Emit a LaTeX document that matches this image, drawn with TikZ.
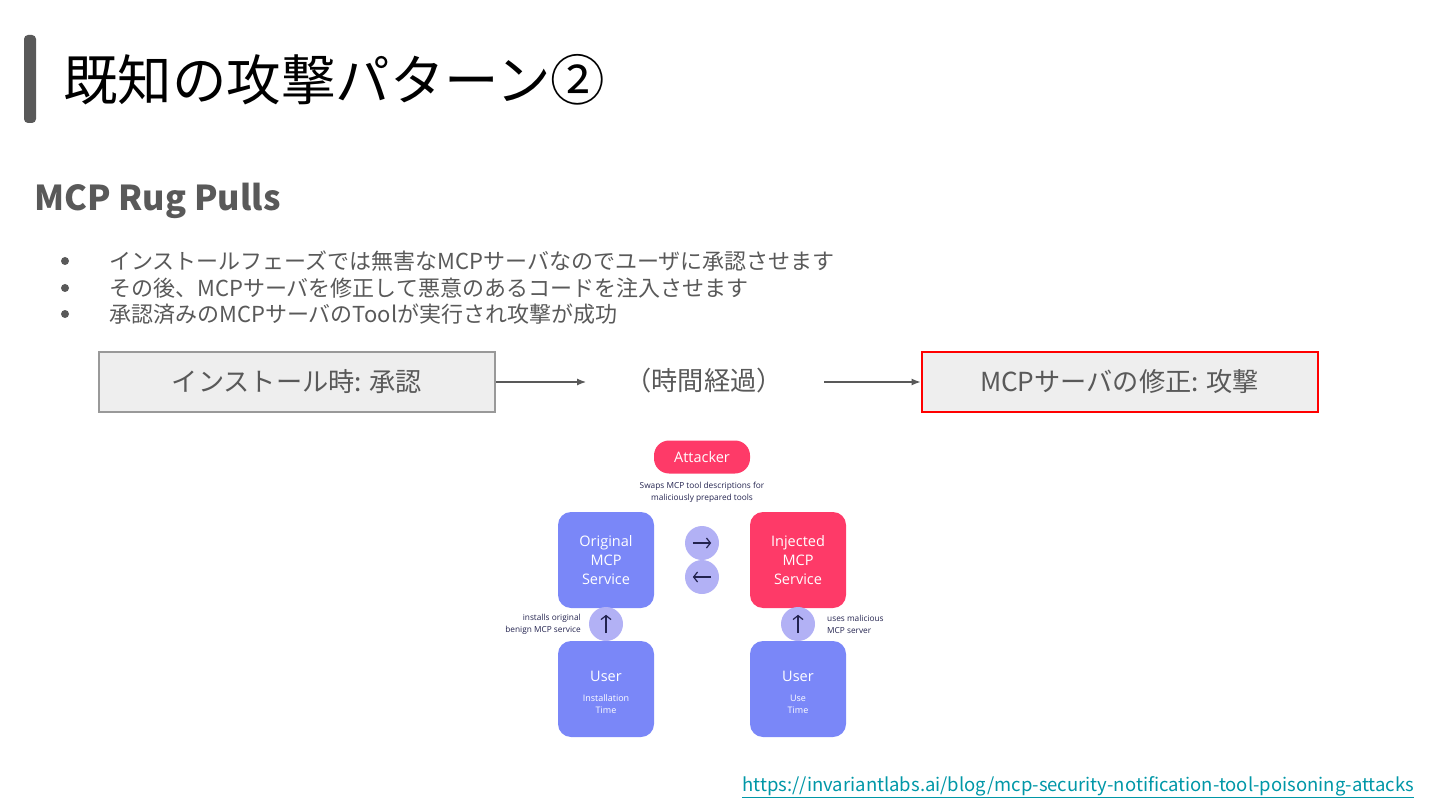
\documentclass[tikz,border=0pt]{standalone}
\usepackage{fontspec}
\setmainfont{Noto Sans CJK JP}
\newfontfamily\latinfont{Open Sans}
\usetikzlibrary{positioning,arrows.meta}
\definecolor{slidegray}{HTML}{595959}
\definecolor{boxfill}{HTML}{EEEEEE}
\definecolor{boxline}{HTML}{999999}
\definecolor{boxred}{HTML}{FF0000}
\definecolor{linkteal}{HTML}{0097A7}
\definecolor{svcblue}{HTML}{7A87F8}
\definecolor{svcred}{HTML}{FE3A68}
\definecolor{iconfill}{HTML}{B2B1F5}
\definecolor{iconink}{HTML}{23234F}
\newcommand{\fsize}[1]{\fontsize{#1}{#1}\selectfont}
\tikzset{
  flowbox/.style={draw=boxline,fill=boxfill,line width=1.6pt,minimum width=396pt,minimum height=60pt,text=slidegray,inner sep=0pt,font=\fsize{26.2}},
  flowarrow/.style={-{Latex[length=9pt,width=7pt]},slidegray,line width=1.2pt},
  svcbox/.style={fill=svcblue,rounded corners=13pt,minimum width=96pt,minimum height=96pt,inner sep=0pt,text=white,align=center},
  svcfont/.style={font=\latinfont\fontsize{14.5}{19}\selectfont},
  userfont/.style={font=\latinfont\fontsize{9}{12}\selectfont},
  iconcirc/.style={circle,fill=iconfill,minimum size=34pt,inner sep=0pt},
  iconarrow/.style={-{Straight Barb[length=4pt,width=10pt]},draw=iconink,line width=1.2pt},
  smallnote/.style={text=iconink,font=\latinfont\fontsize{8.3}{11.5}\selectfont,inner sep=0pt},
}
\begin{document}
\begin{tikzpicture}[>=latex,x=1pt,y=-1pt]
    \useasboundingbox (0,0) rectangle (1440,810);
    % --- title and heading
    \fill[slidegray,rounded corners=4pt] (24,35) rectangle (36,123);
    \node[anchor=west,inner sep=0pt,font=\fsize{54.5}] (title) at (63,80) {既知の攻撃パターン②};
    \node[anchor=west,inner sep=0pt,text=slidegray,font=\bfseries\fsize{34.3}] (heading) at (34,201) {MCP Rug Pulls};
    % --- bullet list
    \foreach \i/\yy/\txt in {1/261/インストールフェーズでは無害なMCPサーバなのでユーザに承認させます,
                             2/288/その後、MCPサーバを修正して悪意のあるコードを注入させます,
                             3/314/承認済みのMCPサーバのToolが実行され攻撃が成功} {
      \node[circle,fill=slidegray,minimum size=8pt,inner sep=0pt] (dot\i) at (65,\yy) {};
      \node[anchor=west,inner sep=0pt,text=slidegray,font=\fsize{22}] (item\i) at (109,\yy) {\txt};
    }
    % --- time line
    \node[flowbox] (install) at (297,382) {\raisebox{2pt}{インストール時: 承認}};
    \node[text=slidegray,inner sep=0pt,font=\fsize{26.2}] (elapsed) at (704,381) {（時間経過）};
    \node[flowbox,draw=boxred,line width=2pt] (modify) at (1119.5,382) {\raisebox{2pt}{MCPサーバの修正: 攻撃}};
    \coordinate (installend) at (586,382);
    \coordinate (modifystart) at (824,382);
    \draw[flowarrow] (install) -- (installend);
    \draw[flowarrow] (modifystart) -- (modify);
    % --- attack figure
    \node[fill=svcred,rounded corners=15pt,minimum width=96pt,minimum height=33pt,inner sep=0pt,text=white,font=\latinfont\fsize{14.5}] (attacker) at (702,457) {Attacker};
    \node[smallnote,align=center] (swapnote) at (702,492.5) {Swaps MCP tool descriptions for\\maliciously prepared tools};
    \node[svcbox,svcfont] (original) at (606,560) {Original\\MCP\\Service};
    \node[svcbox,fill=svcred,svcfont] (injected) at (798,560) {Injected\\MCP\\Service};
    \node[svcbox,userfont] (userinstall) at (606,689) {{\rule{0pt}{18pt}\fsize{14.5}User}\\[8pt]Installation\\Time};
    \node[svcbox,userfont] (useruse) at (798,689) {{\rule{0pt}{18pt}\fsize{14.5}User}\\[8pt]Use\\Time};
    \node[iconcirc] (swapright) at (702,543) {};
    \node[iconcirc] (swapleft) at (702,577) {};
    \node[iconcirc] (upleft) at (606,624) {};
    \node[iconcirc] (upright) at (798,624) {};
    \draw[iconarrow] ([xshift=8pt]swapright.west) -- ([xshift=-8pt]swapright.east);
    \draw[iconarrow] ([xshift=-8pt]swapleft.east) -- ([xshift=8pt]swapleft.west);
    \draw[iconarrow] ([yshift=8pt]upleft.south) -- ([yshift=-8pt]upleft.north);
    \draw[iconarrow] ([yshift=8pt]upright.south) -- ([yshift=-8pt]upright.north);
    \node[smallnote,anchor=east,align=right] (installnote) at (581,624.5) {installs original\\benign MCP service};
    \node[smallnote,anchor=west,align=left] (usesnote) at (827,624.5) {uses malicious\\MCP server};
    % --- source link
    \node[anchor=west,inner sep=0pt,text=linkteal,font=\fsize{18.5}] (srclink) at (742,787) {\underline{https://invariantlabs.ai/blog/mcp-security-notification-tool-poisoning-attacks}};
\end{tikzpicture}
\end{document}
